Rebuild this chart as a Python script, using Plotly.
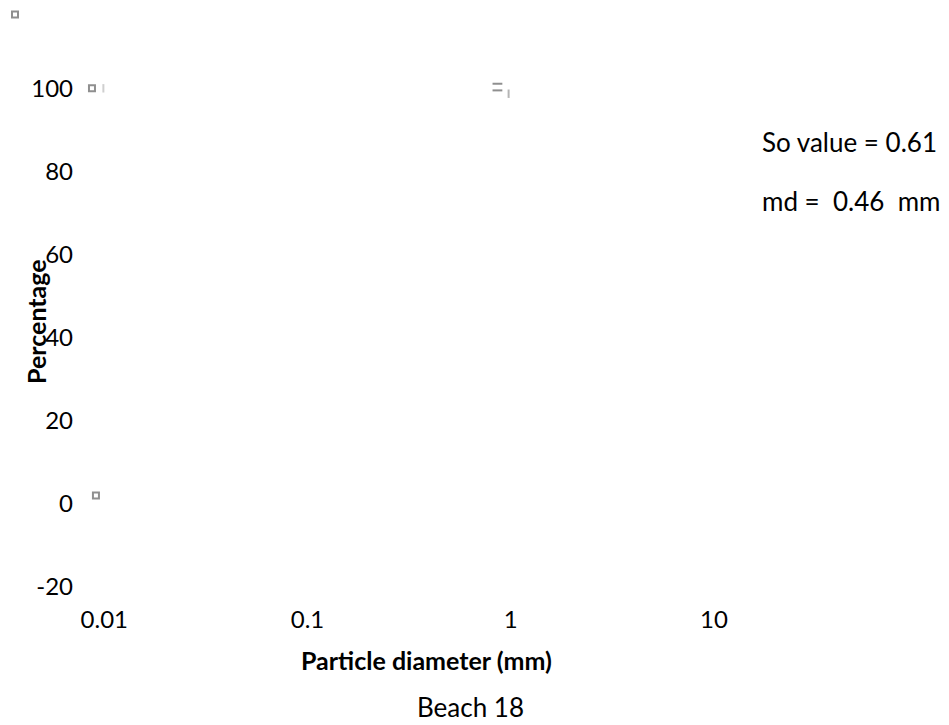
import plotly.graph_objects as go

# Sieve data points (particle diameter in mm vs cumulative percentage)
diameter_mm = [0.0087, 0.0091]
percent = [100, 2]

# Short dash fragments near 1 mm
dash_diameter = [0.86, 0.86]
dash_percent = [101.1, 99.5]
tick_diameter = [0.976]
tick_percent = [98.7]
bar_diameter = [0.0099]
bar_percent = [100]

x_tickvals = [0.01, 0.1, 1, 10]
x_ticktext = ["0.01", "0.1", "1", "10"]
y_tickvals = [-20, 0, 20, 40, 60, 80, 100]
y_ticktext = ["-20", "0", "20", "40", "60", "80", "100"]

so_value = 0.61
md_value = 0.46

FONT = "Lato"
GREY = "#8f8f8f"

# Plot-area geometry (pixels)
L, R, T, B = 88, 235, 80, 138
W, H = 949, 725
PW, PH = W - L - R, H - T - B


def px_x(p):
    return (p - L) / PW


def px_y(p):
    return (H - B - p) / PH


fig = go.Figure()

fig.add_trace(go.Scatter(
    x=diameter_mm, y=percent, mode="markers", name=" ",
    marker=dict(symbol="square-open", size=6, color=GREY, line=dict(width=2, color=GREY)),
    showlegend=True, cliponaxis=False,
))
fig.add_trace(go.Scatter(
    x=dash_diameter, y=dash_percent, mode="markers", showlegend=False,
    marker=dict(symbol="line-ew", size=7, line=dict(width=2, color=GREY)),
    cliponaxis=False,
))
fig.add_trace(go.Scatter(
    x=tick_diameter, y=tick_percent, mode="markers", showlegend=False,
    marker=dict(symbol="line-ns", size=6, line=dict(width=2, color="#b5b5b5")),
    cliponaxis=False,
))
fig.add_trace(go.Scatter(
    x=bar_diameter, y=bar_percent, mode="markers", showlegend=False,
    marker=dict(symbol="line-ns", size=6, line=dict(width=2, color="#cfcfcf")),
    cliponaxis=False,
))

fig.update_layout(
    width=W, height=H,
    margin=dict(l=L, r=R, t=T, b=B, autoexpand=False),
    paper_bgcolor="white", plot_bgcolor="white",
    font=dict(family=FONT, size=24, color="#000000"),
    showlegend=True,
    legend=dict(x=0, y=1, xref="container", yref="container",
                xanchor="left", yanchor="top", bgcolor="rgba(0,0,0,0)",
                font=dict(size=10), itemwidth=30, indentation=-5),
    xaxis=dict(type="log", range=[-2.08, 1], showgrid=False, zeroline=False,
               showline=False, ticks="", tickvals=x_tickvals, ticktext=x_ticktext,
               ticklabelstandoff=16, automargin=False),
    yaxis=dict(range=[-20, 102], showgrid=False, zeroline=False, showline=False,
               ticks="", tickvals=y_tickvals, ticktext=y_ticktext,
               ticklabelstandoff=L - 74, automargin=False),
    annotations=[
        dict(text=f"So value = {so_value:.2f}", x=px_x(760), y=px_y(142),
             xref="paper", yref="paper", xanchor="left", yanchor="middle",
             showarrow=False, font=dict(size=26)),
        dict(text=f"md =  {md_value:.2f}  mm", x=px_x(760), y=px_y(201),
             xref="paper", yref="paper", xanchor="left", yanchor="middle",
             showarrow=False, font=dict(size=26)),
        dict(text="<b>Particle diameter (mm)</b>", x=px_x(426), y=px_y(660),
             xref="paper", yref="paper", xanchor="center", yanchor="middle",
             showarrow=False, font=dict(size=25)),
        dict(text="Beach 18", x=px_x(470), y=px_y(707),
             xref="paper", yref="paper", xanchor="center", yanchor="middle",
             showarrow=False, font=dict(size=26)),
        dict(text="<b>Percentage</b>", x=px_x(36), y=px_y(322),
             xref="paper", yref="paper", xanchor="center", yanchor="middle",
             textangle=-90, showarrow=False, font=dict(size=25)),
    ],
)

fig.write_html("out.html")
